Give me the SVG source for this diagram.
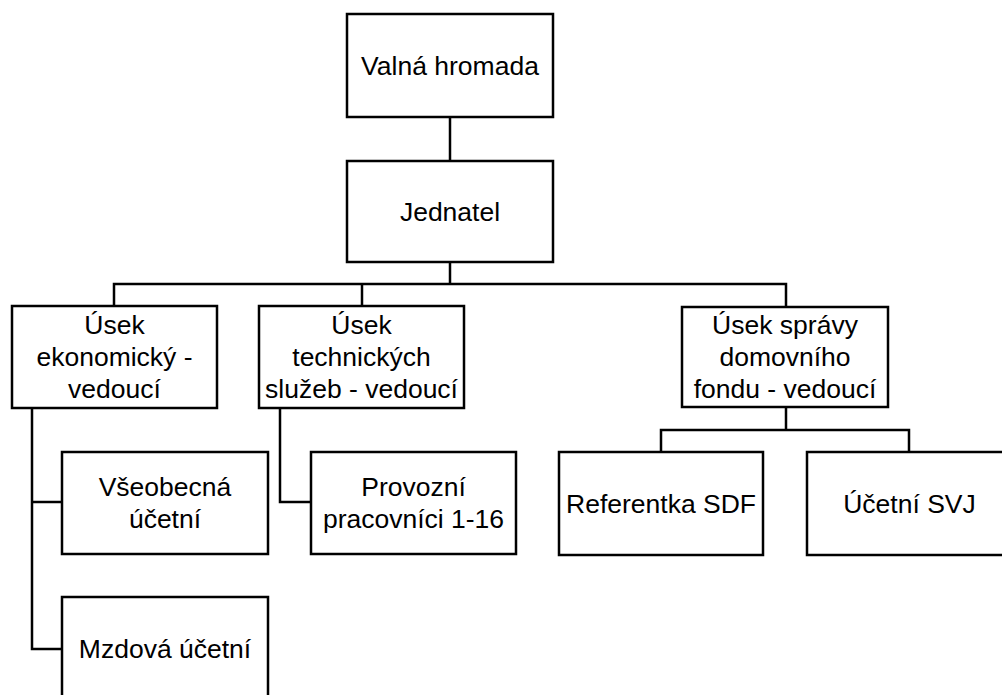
<svg xmlns="http://www.w3.org/2000/svg" width="1002" height="695" viewBox="0 0 1002 695">
<style>
.box{fill:#fff;stroke:#000;stroke-width:2.5}
.ln{fill:none;stroke:#000;stroke-width:2.5}
text{font-family:"Liberation Sans",Arial,sans-serif;font-size:26.5px;fill:#000;text-anchor:middle}
</style>
<rect width="1002" height="695" fill="#fff"/>
<g id="connectors">
<path class="ln" d="M450 117V161"/>
<path class="ln" d="M450 262V284"/>
<path class="ln" d="M114 306V284H786V307"/>
<path class="ln" d="M362 284V306"/>
<path class="ln" d="M32 408V649H62"/>
<path class="ln" d="M32 502H62"/>
<path class="ln" d="M280 408V502H311"/>
<path class="ln" d="M786 407V430"/>
<path class="ln" d="M661 452V430H909V452"/>
</g>
<g id="valna">
<rect class="box" x="347" y="14" width="206" height="103"/>
<text x="450" y="75">Valná hromada</text>
</g>
<g id="jednatel">
<rect class="box" x="347" y="161" width="206" height="101"/>
<text x="450" y="221">Jednatel</text>
</g>
<g id="ekonomicky">
<rect class="box" x="12" y="306" width="205" height="102"/>
<text x="114.5" y="334">Úsek</text>
<text x="114.5" y="366">ekonomický -</text>
<text x="114.5" y="398">vedoucí</text>
</g>
<g id="technicky">
<rect class="box" x="259" y="306" width="205" height="102"/>
<text x="361.5" y="334">Úsek</text>
<text x="361.5" y="366">technických</text>
<text x="361.5" y="398">služeb - vedoucí</text>
</g>
<g id="spravy">
<rect class="box" x="682" y="307" width="206" height="100"/>
<text x="785" y="334">Úsek správy</text>
<text x="785" y="366">domovního</text>
<text x="785" y="398">fondu - vedoucí</text>
</g>
<g id="vseobecna">
<rect class="box" x="62" y="452" width="206" height="102"/>
<text x="165" y="496">Všeobecná</text>
<text x="165" y="528">účetní</text>
</g>
<g id="provozni">
<rect class="box" x="311" y="452" width="205" height="102"/>
<text x="413.5" y="496">Provozní</text>
<text x="413.5" y="528">pracovníci 1-16</text>
</g>
<g id="referentka">
<rect class="box" x="559" y="452" width="204" height="103"/>
<text x="661" y="513">Referentka SDF</text>
</g>
<g id="ucetni-svj">
<rect class="box" x="807" y="452" width="205" height="103"/>
<text x="909.5" y="513">Účetní SVJ</text>
</g>
<g id="mzdova">
<rect class="box" x="62" y="597" width="206" height="102"/>
<text x="165" y="658">Mzdová účetní</text>
</g>
</svg>
